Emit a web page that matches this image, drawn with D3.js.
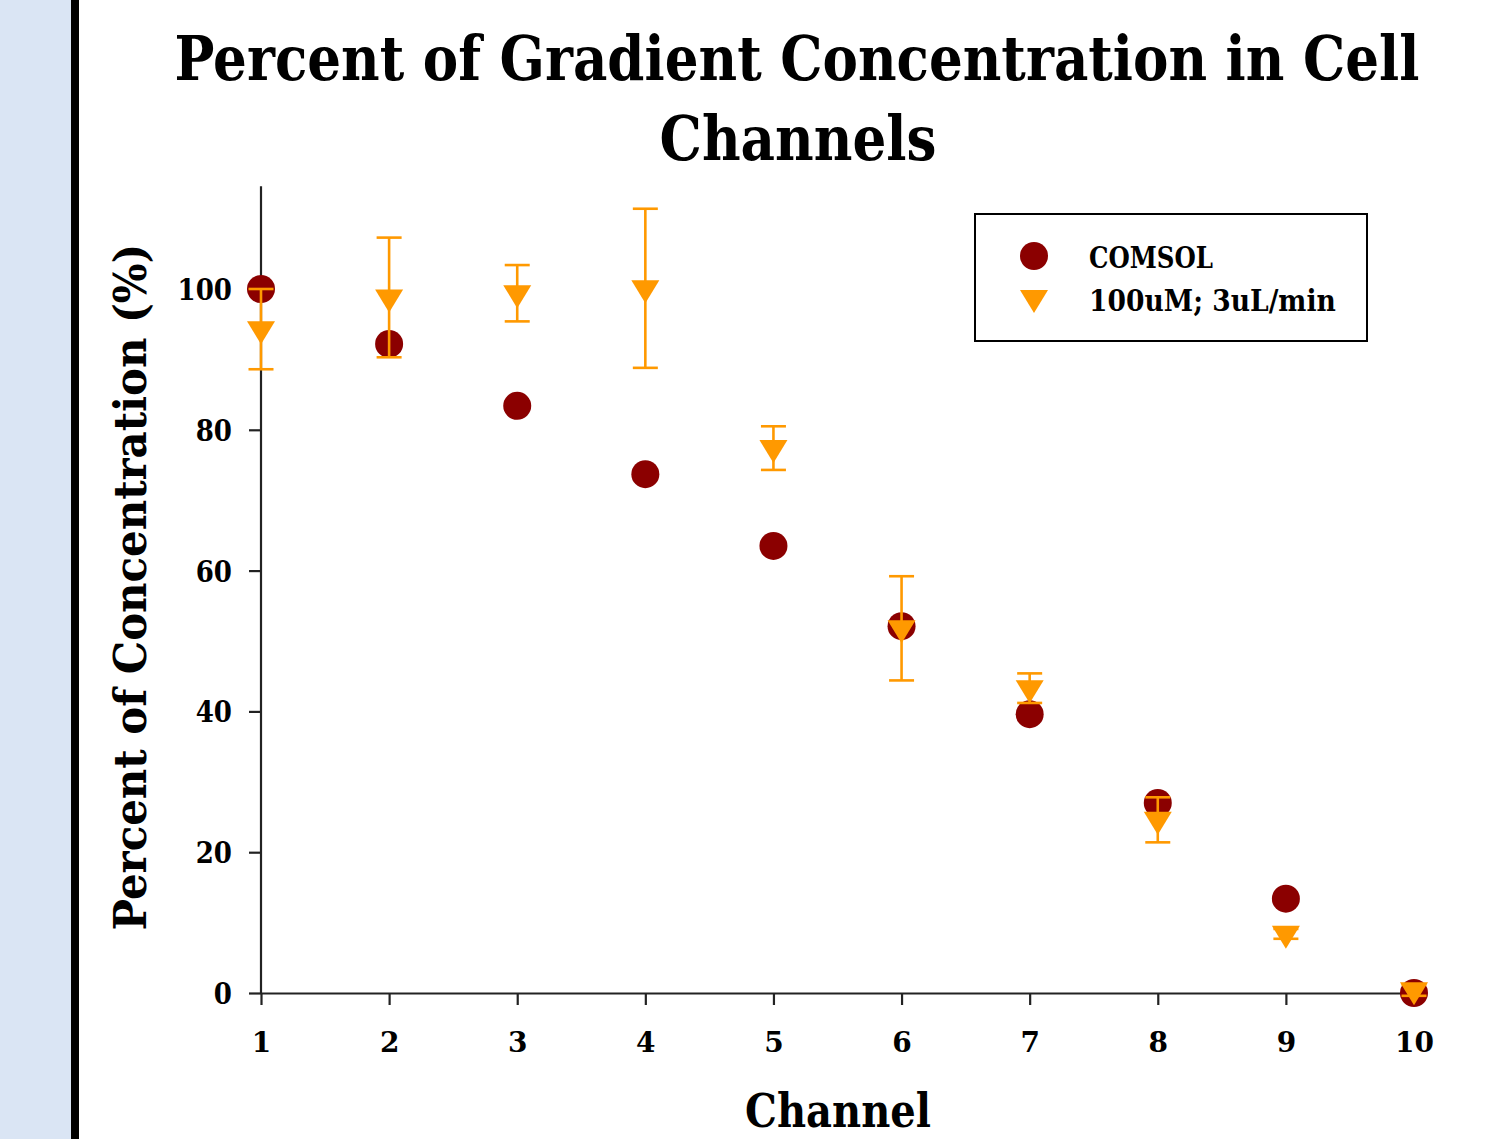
<!DOCTYPE html>
<html>
<head>
<meta charset="utf-8">
<script src="https://cdn.jsdelivr.net/npm/d3@7"></script>
<style>
  html, body { margin: 0; padding: 0; background: #fff; }
  svg { display: block; }
  text { font-family: "DejaVu Serif", "Liberation Serif", serif; font-weight: bold; fill: #000; }
</style>
</head>
<body>
<svg id="chart" width="1507" height="1139"></svg>
<script>
// ---- data ----
const channels = [1, 2, 3, 4, 5, 6, 7, 8, 9, 10];
const comsolValues = [100, 92.2, 83.4, 73.7, 63.5, 52.1, 39.6, 27.0, 13.4, 0];
const measuredValues = [94.3, 98.8, 99.4, 100.1, 77.4, 51.8, 43.3, 24.6, 8.4, 0.4];
const measuredErrors = [5.7, 8.5, 4.0, 11.3, 3.1, 7.4, 2.1, 3.2, 0.7, 0.8];
const yTicks = [0, 20, 40, 60, 80, 100];
const xTicks = [1, 2, 3, 4, 5, 6, 7, 8, 9, 10];
const seriesNames = ["COMSOL", "100uM; 3uL/min"];
const titleLines = ["Percent of Gradient Concentration in Cell", "Channels"];
const xLabel = "Channel";
const yLabel = "Percent of Concentration (%)";

const svg = d3.select("#chart");
const DARKRED = "#8b0000";
const ORANGE = "#ff9900";

// left decoration strip
svg.append("rect").attr("x", 0).attr("y", 0).attr("width", 71).attr("height", 1139).attr("fill", "#dae5f4");
svg.append("rect").attr("x", 71).attr("y", 0).attr("width", 8).attr("height", 1139).attr("fill", "#000");

// scales
const x = d3.scaleLinear().domain([1, 10]).range([261, 1414]);
const y = d3.scaleLinear().domain([0, 100]).range([993, 289]);
const yTop = 114.6;

// helper: text squeezed horizontally to a target width (anchor = start or middle)
function fitText(parent, str, cx, cy, size, width, anchor, rotate) {
  const g = parent.append("g");
  const t = g.append("text").attr("x", 0).attr("y", 0).attr("text-anchor", anchor)
    .attr("font-size", size).text(str);
  const natural = t.node().getComputedTextLength();
  const s = width / natural;
  g.attr("transform", `translate(${cx},${cy})${rotate ? " rotate(" + rotate + ")" : ""} scale(${s},1)`);
  return g;
}

// title
fitText(svg, titleLines[0], 797, 80, 62, 1245, "middle");
fitText(svg, titleLines[1], 798, 160, 62, 277, "middle");

// axes
const axisColor = "#222";
const yAxisG = svg.append("g").attr("transform", `translate(${x(1)},0)`)
  .call(d3.axisLeft(y).tickValues(yTicks).tickSize(12).tickPadding(17).tickSizeOuter(0));
yAxisG.select(".domain").remove();
yAxisG.append("line").attr("x1", 0).attr("x2", 0).attr("y1", y(0)).attr("y2", y(yTop))
  .attr("stroke", axisColor).attr("stroke-width", 2.2);
yAxisG.selectAll(".tick line").attr("stroke", axisColor).attr("stroke-width", 2.2);
yAxisG.selectAll(".tick text").attr("font-size", 29).attr("font-family", "DejaVu Serif, serif")
  .attr("font-weight", "bold").attr("fill", "#000").attr("dy", "0.36em")
  .attr("transform", "scale(0.9,1)").attr("x", -29 / 0.9);

const xAxisG = svg.append("g").attr("transform", `translate(0,${y(0)})`)
  .call(d3.axisBottom(x).tickValues(xTicks).tickFormat(d3.format("d")).tickSize(12).tickPadding(27).tickSizeOuter(0));
xAxisG.select(".domain").attr("stroke", axisColor).attr("stroke-width", 2.2);
xAxisG.selectAll(".tick line").attr("stroke", axisColor).attr("stroke-width", 2.2);
xAxisG.selectAll(".tick text").attr("font-size", 28).attr("font-family", "DejaVu Serif, serif")
  .attr("font-weight", "bold").attr("fill", "#000");

// axis labels
fitText(svg, yLabel, 146, 587, 44, 687, "middle", -90);
fitText(svg, xLabel, 838, 1127, 46, 186, "middle");

// triangle path (pointing down), centered around data value
function triPath(cx, cy, s) {
  const w = 14 * s, top = 8 * s, bot = 15 * s;
  return `M${cx - w},${cy - top}L${cx + w},${cy - top}L${cx},${cy + bot}Z`;
}

// COMSOL circles
svg.append("g").selectAll("circle").data(channels).join("circle")
  .attr("cx", (d) => x(d)).attr("cy", (d, i) => y(comsolValues[i])).attr("r", 14)
  .attr("fill", DARKRED);

// measured: error bars then triangles
const errG = svg.append("g").attr("stroke", ORANGE).attr("stroke-width", 2.6).attr("fill", "none");
channels.forEach((c, i) => {
  const cx = x(c), hi = y(measuredValues[i] + measuredErrors[i]), lo = y(measuredValues[i] - measuredErrors[i]);
  errG.append("line").attr("x1", cx).attr("x2", cx).attr("y1", hi).attr("y2", lo);
  errG.append("line").attr("x1", cx - 12.5).attr("x2", cx + 12.5).attr("y1", hi).attr("y2", hi);
  errG.append("line").attr("x1", cx - 12.5).attr("x2", cx + 12.5).attr("y1", lo).attr("y2", lo);
});
svg.append("g").selectAll("path").data(channels).join("path")
  .attr("d", (d, i) => triPath(x(d), y(measuredValues[i]), 1))
  .attr("fill", ORANGE);

// legend
const lg = svg.append("g");
lg.append("rect").attr("x", 975).attr("y", 214).attr("width", 392).attr("height", 127)
  .attr("fill", "#fff").attr("stroke", "#000").attr("stroke-width", 2);
lg.append("circle").attr("cx", 1034).attr("cy", 256).attr("r", 14).attr("fill", DARKRED);
lg.append("path").attr("d", triPath(1034, 298, 1)).attr("fill", ORANGE);
fitText(lg, seriesNames[0], 1089, 268, 29, 124, "start");
fitText(lg, seriesNames[1], 1089, 311, 29, 247, "start");
</script>
</body>
</html>
